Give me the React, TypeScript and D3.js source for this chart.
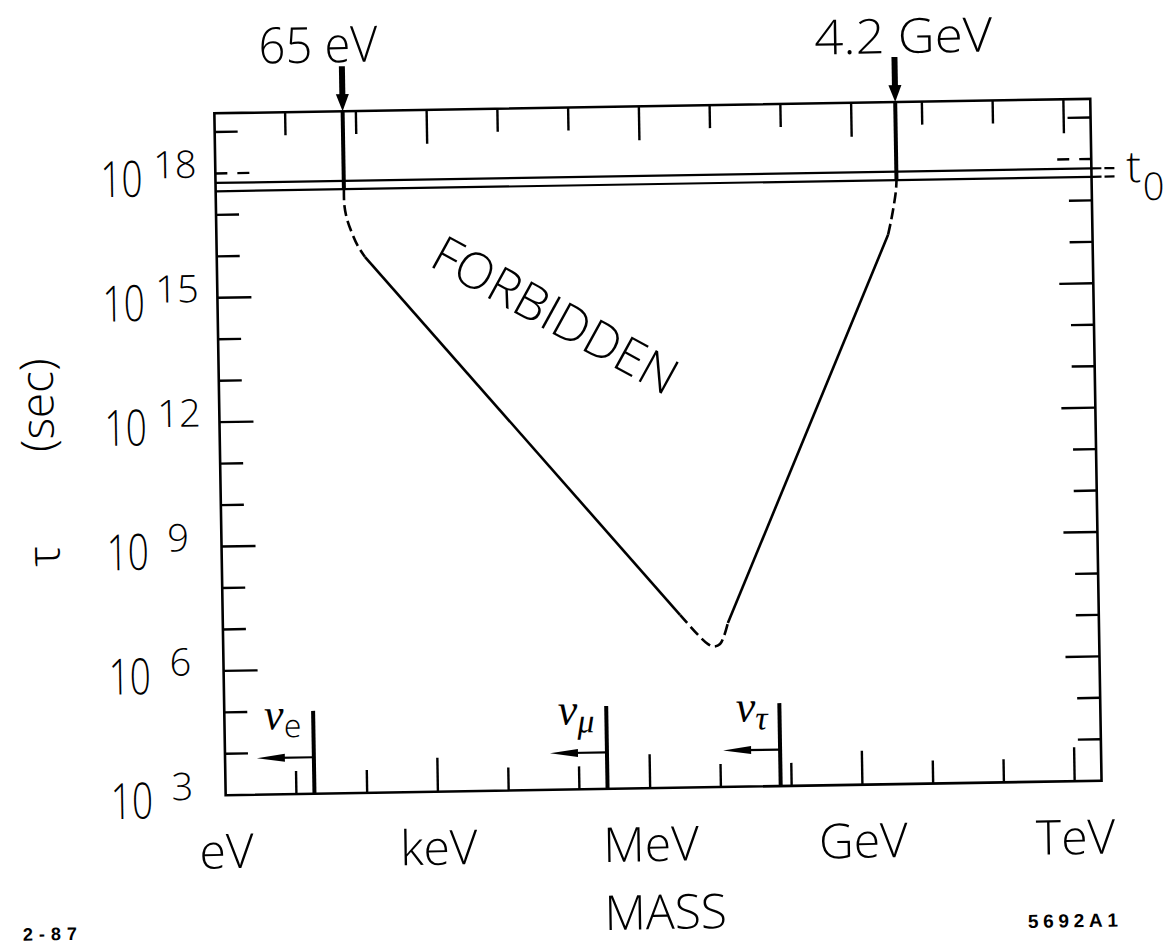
import React from 'react';
import * as d3 from 'd3';

// ---------- data ----------
const massTickExps = [1, 2, 3, 4, 5, 6, 7, 8, 9, 10, 11, 12];
const massLabels = ['eV', 'keV', 'MeV', 'GeV', 'TeV'];
const massLabelValues = [1, 1e3, 1e6, 1e9, 1e12];
const tauTickExps = [4, 5, 6, 7, 8, 9, 10, 11, 12, 13, 14, 15, 16, 17, 18, 19];
const tauLabelExps = [3, 6, 9, 12, 15, 18];
const t0Values = [3.7e17, 5.9e17];

// boundary of forbidden region: [mass (eV), lifetime (s)]
const leftDashed: [number, number][] = [
  [65, 3.7e17], [65.3, 1.55e17], [70.2, 7.4e16], [82.4, 3.24e16], [99.5, 1.55e16], [124, 8.5e15],
];
const leftSolid: [number, number][] = [[124, 8.5e15], [2.9e6, 1.48e7]];
const bottomDashed: [number, number][] = [
  [2.9e6, 1.48e7], [5.51e6, 4.22e6], [7.1e6, 2.84e6], [8.61e6, 2.46e6], [1.05e7, 2.81e6], [1.2e7, 4.37e6], [1.37e7, 8.97e6],
];
const rightSolid: [number, number][] = [[1.37e7, 8.97e6], [3.1e9, 1.78e16]];
const rightDashed: [number, number][] = [
  [3.1e9, 1.78e16], [3.44e9, 3.84e16], [3.83e9, 9.8e16], [4.11e9, 2.14e17], [4.2e9, 3.7e17],
];

const boundValues = [65, 4.2e9];
const boundLabels = ['65 eV', '4.2 GeV'];

const nuNames = ['e', 'μ', 'τ'];
const nuLimits = [18, 2.5e5, 7.0e7];
const nuLineTop = 1e5;
const nuArrowY = 7.6e3;

// ---------- layout ----------
const W = 1175, H = 945;
const L = 220, R = 1096, T = 106, B = 788;
const INK = '#000';
const FONT = "'Open Sans', 'Liberation Sans', sans-serif";
const SERIF = "'Liberation Serif', 'DejaVu Serif', serif";

export default function App() {
  const x = d3.scaleLog().domain([1, 10 ** 12.38]).range([L, R]);
  const y = d3.scaleLog().domain([1e3, 10 ** 19.45]).range([B, T]);

  const straight = d3.line<[number, number]>().x(d => x(d[0])).y(d => y(d[1]));
  const smooth = d3.line<[number, number]>().x(d => x(d[0])).y(d => y(d[1])).curve(d3.curveCatmullRom.alpha(0.5));

  const major = 34, minor = 23;

  return (
    <svg width={W} height={H} style={{ position: 'absolute', left: 0, top: 0, background: '#fff' }}
      fontFamily={FONT}>
      <rect x={0} y={0} width={W} height={H} fill="#fff" />
      <g transform="rotate(-0.95, 660, 450)">
        {/* frame */}
        <rect x={L} y={T} width={R - L} height={B - T} fill="none" stroke={INK} strokeWidth={2.6} />

        {/* x ticks bottom & top */}
        {massTickExps.map(k => {
          const px = x(10 ** k);
          const len = k % 3 === 0 ? major : minor;
          return (
            <g key={'xt' + k} stroke={INK} strokeWidth={2.4}>
              <line x1={px} x2={px} y1={B} y2={B - len} />
              <line x1={px} x2={px} y1={T} y2={T + len} />
            </g>
          );
        })}
        {/* y ticks left & right */}
        {tauTickExps.map(e => {
          const py = y(10 ** e);
          const len = e % 3 === 0 ? major : minor;
          const dash = e === 18 ? '12,10' : undefined;
          return (
            <g key={'yt' + e} stroke={INK} strokeWidth={2.4} strokeDasharray={dash}>
              <line x1={L} x2={L + len} y1={py} y2={py} />
              <line x1={R} x2={R - len} y1={py} y2={py} />
            </g>
          );
        })}

        {/* x labels */}
        {massLabels.map((t, i) => (
          <text key={t} x={x(massLabelValues[i])} y={861} fontSize={48} fontWeight={300}
            textAnchor="middle" fill={INK}>{t}</text>
        ))}
        <text x={(L + R) / 2} y={929} fontSize={48} fontWeight={300} textAnchor="middle" fill={INK}>MASS</text>

        {/* y labels */}
        {tauLabelExps.map(e => {
          const py = y(10 ** e);
          return (
            <g key={'yl' + e} fill={INK} fontWeight={300}>
              <text transform={`translate(105,${py + 22}) scale(0.74,1)`} fontSize={50}>10</text>
              <text x={e >= 10 ? 158 : 166} y={py + 4} fontSize={38}>{e}</text>
            </g>
          );
        })}
        <text transform="translate(54,395) rotate(-90)" fontSize={46} fontWeight={300} textAnchor="middle" fill={INK}>(sec)</text>
        <text transform="translate(58,546) rotate(-90)" fontSize={46} fontWeight={300} textAnchor="middle" fill={INK}>τ</text>

        {/* t0 lines */}
        {t0Values.map((v, i) => (
          <g key={'t0' + i} stroke={INK} strokeWidth={2.2}>
            <line x1={L} x2={R} y1={y(v)} y2={y(v)} />
            <line x1={R} x2={R + 25} y1={y(v)} y2={y(v)} strokeDasharray="10,3" />
          </g>
        ))}
        <text x={R + 35} y={190} fontSize={44} fontWeight={300} fill={INK}>
          t<tspan x={R + 51} y={208} fontSize={38}>0</tspan>
        </text>

        {/* boundary verticals + arrows */}
        {boundValues.map((v, i) => {
          const px = x(v);
          const yb = y(t0Values[0]);
          return (
            <g key={'bv' + i}>
              <line x1={px} x2={px} y1={T} y2={yb} stroke={INK} strokeWidth={4} />
              <line x1={px} x2={px} y1={61} y2={92} stroke={INK} strokeWidth={6} />
              <polygon points={`${px - 6.5},${89} ${px + 6.5},${89} ${px},${T}`} fill={INK} />
            </g>
          );
        })}
        <text x={x(boundValues[0]) - 83} y={57} fontSize={50} fontWeight={300} fill={INK}
          textLength={119} lengthAdjust="spacingAndGlyphs">{boundLabels[0]}</text>
        <text x={x(boundValues[1]) - 80} y={57} fontSize={48} fontWeight={300} fill={INK}
          textLength={178} lengthAdjust="spacingAndGlyphs">{boundLabels[1]}</text>

        {/* forbidden boundary */}
        <g fill="none" stroke={INK} strokeWidth={2.6}>
          <path d={smooth(leftDashed) || ''} strokeDasharray="11,5" />
          <path d={straight(leftSolid) || ''} />
          <path d={smooth(bottomDashed) || ''} strokeDasharray="11,5" />
          <path d={straight(rightSolid) || ''} />
          <path d={smooth(rightDashed) || ''} strokeDasharray="11,5" />
        </g>
        <text transform={`translate(${x(10 ** 2.98)},${y(10 ** 15.71)}) rotate(29.8)`} fontSize={50} fontWeight={300}
          fill={INK} textLength={272} lengthAdjust="spacingAndGlyphs">FORBIDDEN</text>

        {/* neutrino limits */}
        {nuLimits.map((v, i) => {
          const px = x(v);
          const ya = y(nuArrowY);
          const xa = px - 57;
          return (
            <g key={'nu' + i}>
              <line x1={px} x2={px} y1={B} y2={y(nuLineTop)} stroke={INK} strokeWidth={4} />
              <line x1={xa + 20} x2={px} y1={ya} y2={ya} stroke={INK} strokeWidth={2.2} />
              <polygon points={`${xa},${ya} ${xa + 28},${ya - 4} ${xa + 28},${ya + 4}`} fill={INK} />
              <text x={px - 12} y={723} textAnchor="end" fill={INK}>
                <tspan fontFamily={SERIF} fontStyle="italic" fontSize={44}>ν</tspan>
                <tspan dy={8} fontSize={i === 0 ? 32 : 34} fontWeight={i === 0 ? 300 : 400}
                  fontFamily={i === 0 ? FONT : SERIF} fontStyle={i === 0 ? 'normal' : 'italic'}>{nuNames[i]}</tspan>
              </text>
            </g>
          );
        })}

        {/* figure ids */}
        <text x={15} y={930} fontSize={18} fontWeight="bold" fontFamily="'Liberation Sans', sans-serif" fill={INK}
          textLength={54} lengthAdjust="spacing">2-87</text>
        <text x={1020} y={934} fontSize={19} fontWeight="bold" fontFamily="'Liberation Sans', sans-serif" fill={INK}
          textLength={90} lengthAdjust="spacing">5692A1</text>
      </g>
    </svg>
  );
}
